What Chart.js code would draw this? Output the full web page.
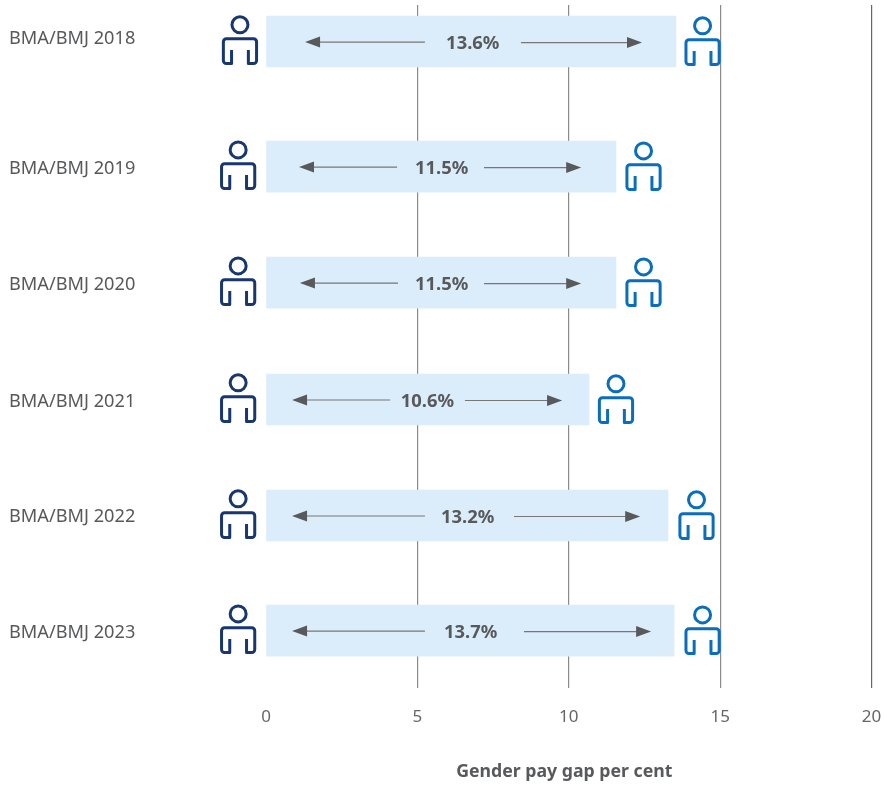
<!DOCTYPE html>
<html><head><meta charset="utf-8">
<style>html,body{margin:0;padding:0;background:#fff}canvas{display:block}</style>
<script src="https://cdn.jsdelivr.net/npm/chart.js@4/dist/chart.umd.min.js"></script>
</head><body><canvas id="c" width="885" height="785"></canvas>
<script>
const categories = ['BMA/BMJ 2018','BMA/BMJ 2019','BMA/BMJ 2020','BMA/BMJ 2021','BMA/BMJ 2022','BMA/BMJ 2023'];
const rowValues  = [0, 1.078, 2.078, 3.086, 4.086, 5.078];
const labelRows  = [-0.022, 1.099, 2.099, 3.108, 4.099, 5.099];
const gapValues  = [13.54, 11.56, 11.56, 10.67, 13.28, 13.48];
const gapLabels  = ['13.6%','11.5%','11.5%','10.6%','13.2%','13.7%'];
const labelCentres = [6.83, 5.80, 5.80, 5.33, 6.66, 6.76];
const arrowLeftTip  = [1.29, 1.09, 1.12, 0.86, 0.86, 0.86];
const arrowLeftEnd  = [5.25, 4.33, 4.36, 4.10, 5.25, 5.25];
const arrowRightEnd = [8.42, 7.20, 7.20, 6.57, 8.19, 8.52];
const arrowRightTip = [12.42, 10.41, 10.41, 9.78, 12.36, 12.72];
const leftIconAt  = [-0.86, -0.92, -0.92, -0.92, -0.92, -0.92];
const rightIconAt = [14.42, 12.47, 12.47, 11.56, 14.22, 14.42];
const xTicks = [0, 5, 10, 15, 20];
const FONT = '"Noto Sans", sans-serif';
const GREY = '#58595b';

function person(ctx, cx, cy, colour) {
  ctx.save();
  ctx.strokeStyle = colour; ctx.lineWidth = 3; ctx.lineJoin = 'round'; ctx.lineCap = 'butt';
  ctx.beginPath(); ctx.arc(cx, cy - 16.7, 8, 0, Math.PI * 2); ctx.stroke();
  const w = 16.6, inner = 8.4, top = -2.8, bot = 22, leg = 8.5, r = 3;
  ctx.beginPath();
  ctx.moveTo(cx - inner, cy + leg);
  ctx.lineTo(cx - inner, cy + bot);
  ctx.arcTo(cx - w, cy + bot, cx - w, cy + bot - r, r);
  ctx.lineTo(cx - w, cy + top + r);
  ctx.arcTo(cx - w, cy + top, cx - w + r, cy + top, r);
  ctx.lineTo(cx + w - r, cy + top);
  ctx.arcTo(cx + w, cy + top, cx + w, cy + top + r, r);
  ctx.lineTo(cx + w, cy + bot - r);
  ctx.arcTo(cx + w, cy + bot, cx + inner, cy + bot, r);
  ctx.lineTo(cx + inner, cy + bot);
  ctx.lineTo(cx + inner, cy + leg);
  ctx.stroke();
  ctx.restore();
}
function arrow(ctx, xFrom, xTip, y) {
  const dir = xTip > xFrom ? 1 : -1;
  ctx.save();
  ctx.strokeStyle = '#777'; ctx.lineWidth = 1.2;
  ctx.beginPath(); ctx.moveTo(xFrom, y); ctx.lineTo(xTip - dir * 10, y); ctx.stroke();
  ctx.fillStyle = GREY;
  ctx.beginPath(); ctx.moveTo(xTip, y); ctx.lineTo(xTip - dir * 15, y - 5.5); ctx.lineTo(xTip - dir * 15, y + 5.5); ctx.closePath(); ctx.fill();
  ctx.restore();
}
const overlays = {
  id: 'overlays',
  beforeDraw(chart) {
    const sx = chart.scales.x;
    if (!sx.__shifted) {
      const base = sx.drawTitle;
      sx.drawTitle = function (a) { const c = this.ctx; c.save(); c.translate(-4.5, 0); base.call(this, a); c.restore(); };
      sx.__shifted = true;
    }
  },
  afterDatasetsDraw(chart) {
    const { ctx, scales: { x, y } } = chart;
    rowValues.forEach((row, i) => {
      const cy = y.getPixelForValue(row);
      arrow(ctx, x.getPixelForValue(arrowLeftEnd[i]), x.getPixelForValue(arrowLeftTip[i]), cy + 0.5);
      arrow(ctx, x.getPixelForValue(arrowRightEnd[i]), x.getPixelForValue(arrowRightTip[i]), cy + 1);
      ctx.save();
      ctx.font = 'bold 18.4px ' + FONT; ctx.fillStyle = GREY; ctx.textAlign = 'center'; ctx.textBaseline = 'middle';
      ctx.fillText(gapLabels[i], x.getPixelForValue(labelCentres[i]), cy + 2);
      ctx.restore();
      person(ctx, x.getPixelForValue(leftIconAt[i]), cy, '#17376e');
      person(ctx, x.getPixelForValue(rightIconAt[i]), cy + 1, '#0a6ebd');
    });
  }
};
new Chart(document.getElementById('c'), {
  type: 'bar',
  plugins: [overlays],
  data: { datasets: [{
    label: 'Gender pay gap per cent',
    data: rowValues.map((r, i) => ({ x: gapValues[i], y: r })),
    backgroundColor: '#dbecfb', borderWidth: 0, barThickness: 51
  }]},
  options: {
    indexAxis: 'y', responsive: false, animation: false,
    layout: { padding: { top: 5, right: 13.5, left: 9, bottom: 0 } },
    plugins: { legend: { display: false }, tooltip: { enabled: false } },
    scales: {
      x: {
        type: 'linear', min: 0, max: 20, position: 'bottom',
        afterBuildTicks(s) { s.ticks = xTicks.map(v => ({ value: v })); },
        afterFit(s) { s.height = 97; s.paddingLeft = 0; s.paddingRight = 0; s.paddingTop = 0; s.paddingBottom = 0; },
        border: { display: false },
        grid: { drawTicks: false, lineWidth: 1.2, color: c => c.tick && c.tick.value === 20 ? '#666' : c.tick && c.tick.value === 0 ? 'rgba(0,0,0,0)' : '#8a8a8a' },
        ticks: { padding: 19, color: '#666', font: { family: FONT, size: 17 }, maxRotation: 0 },
        title: { display: true, text: 'Gender pay gap per cent', color: GREY, font: { family: FONT, size: 17.7, weight: 'bold' }, padding: { top: 0, bottom: 2 } }
      },
      y: {
        type: 'linear', reverse: true, offset: false, min: -0.315, max: 5.573, position: 'left',
        afterBuildTicks(s) { s.ticks = labelRows.map(v => ({ value: v })); },
        afterTickToLabelConversion(s) { s.ticks.forEach((t, i) => { t.label = categories[i]; }); },
        afterFit(s) { s.width = 257; s.paddingLeft = 0; s.paddingRight = 0; s.paddingTop = 0; s.paddingBottom = 0; },
        border: { display: false },
        grid: { display: false, drawTicks: false },
        ticks: { autoSkip: false, crossAlign: 'far', padding: 0, color: GREY, font: { family: FONT, size: 18.2 } }
      }
    }
  }
});
</script></body></html>
